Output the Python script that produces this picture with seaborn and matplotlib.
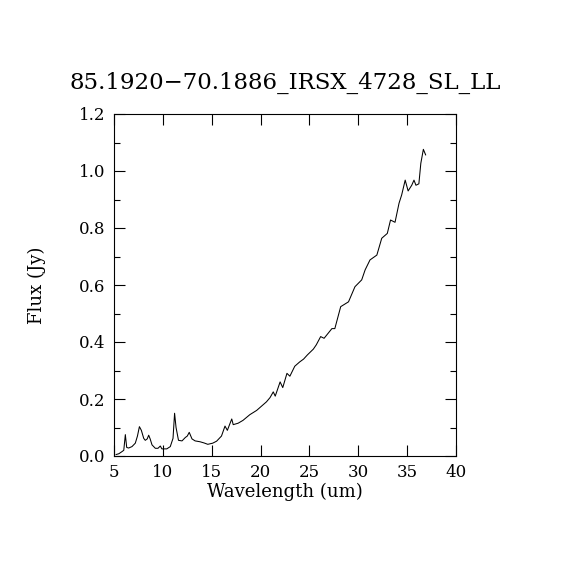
import matplotlib
matplotlib.use("Agg")
import matplotlib.pyplot as plt
from matplotlib.ticker import MultipleLocator
import pandas as pd
import seaborn as sns

# spektar ocitan sa slike (um, Jy)
wavelength = [5.2, 5.5, 5.8, 6.0, 6.16, 6.3, 6.5, 6.84, 7.18, 7.4, 7.6, 7.8,
              8.04, 8.2, 8.4, 8.55, 8.7, 8.89, 9.23, 9.5, 9.74, 9.9, 10.4,
              10.76, 11.04, 11.2, 11.35, 11.6, 11.96, 12.3, 12.5, 12.7, 12.98,
              13.3, 13.8, 14.2, 14.6, 15.1, 15.5, 16.0, 16.36, 16.6, 17.05,
              17.2, 17.7, 18.2, 18.9, 19.6, 20.1, 20.6, 20.97, 21.3, 21.5,
              22.0, 22.27, 22.7, 23.0, 23.5, 24.0, 24.4, 24.8, 25.4, 25.7,
              26.15, 26.5, 27.3, 27.6, 28.2, 29.0, 29.66, 30.35, 30.7, 31.2,
              31.9, 32.4, 32.97, 33.3, 33.76, 34.17, 34.44, 34.8, 35.1, 35.47,
              35.7, 35.9, 36.2, 36.4, 36.66, 36.9]
flux = [0.005, 0.008, 0.015, 0.02, 0.075, 0.03, 0.028, 0.033, 0.045, 0.07,
        0.103, 0.09, 0.062, 0.055, 0.06, 0.073, 0.06, 0.039, 0.027, 0.027,
        0.035, 0.025, 0.025, 0.033, 0.062, 0.15, 0.1, 0.055, 0.053, 0.065,
        0.07, 0.083, 0.06, 0.053, 0.05, 0.046, 0.041, 0.045, 0.052, 0.07,
        0.105, 0.09, 0.13, 0.11, 0.115, 0.125, 0.145, 0.16, 0.175, 0.19,
        0.205, 0.225, 0.21, 0.26, 0.24, 0.29, 0.28, 0.315, 0.33, 0.34,
        0.355, 0.375, 0.39, 0.419, 0.413, 0.447, 0.447, 0.524, 0.541,
        0.594, 0.618, 0.653, 0.688, 0.705, 0.764, 0.781, 0.828, 0.82,
        0.887, 0.916, 0.968, 0.93, 0.95, 0.968, 0.95, 0.955, 1.027, 1.076,
        1.056]

naslov = "85.1920\u221270.1886_IRSX_4728_SL_LL"

sns.set_style("ticks")
plt.rcParams["font.family"] = ["DejaVu Serif", "DejaVu Sans"]
plt.rcParams["text.color"] = "black"
plt.rcParams["axes.labelcolor"] = "black"

df = pd.DataFrame({"wavelength": wavelength, "flux": flux})

fig = plt.figure(figsize=(5.7, 5.7), dpi=100)
ax = fig.add_axes([0.2, 0.2, 0.6, 0.6])
sns.lineplot(data=df, x="wavelength", y="flux", color="black", linewidth=0.75,
             ax=ax, estimator=None, sort=False)

ax.set_xlim(5, 40)
ax.set_ylim(0, 1.2)
ax.xaxis.set_major_locator(MultipleLocator(5))
ax.yaxis.set_major_locator(MultipleLocator(0.2))
ax.yaxis.set_minor_locator(MultipleLocator(0.1))
ax.yaxis.set_major_formatter(plt.FuncFormatter(lambda v, p: f"{v:.1f}"))
ax.tick_params(which="both", direction="in", top=True, right=True,
               labelsize=12, width=0.8, colors="black", pad=6)
ax.tick_params(which="major", length=8)
ax.tick_params(which="minor", length=4)
for s in ax.spines.values():
    s.set_linewidth(0.8)
    s.set_color("black")

ax.set_xlabel("Wavelength (um)", fontsize=13, labelpad=1)
ax.set_ylabel("Flux (Jy)", fontsize=13, labelpad=24)
ax.set_title(naslov, fontsize=16.5, pad=18)

fig.savefig("out.png", dpi=100, facecolor="white")
